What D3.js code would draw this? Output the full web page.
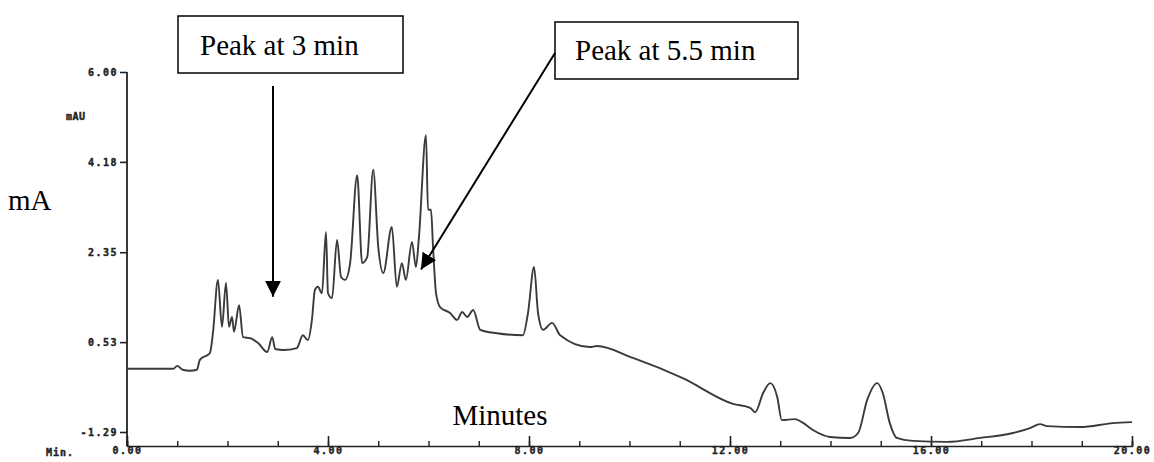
<!DOCTYPE html>
<html>
<head>
<meta charset="utf-8">
<script src="https://cdn.jsdelivr.net/npm/d3@7"></script>
<style>
  body { margin: 0; background: #fff; }
  svg { display: block; }
  .tick-text { font-family: "DejaVu Sans Mono", monospace; font-weight: bold; font-size: 10px; letter-spacing: 1.5px; fill: #222; stroke: #222; stroke-width: 0.4px; }
  .note { font-family: "Liberation Serif", "DejaVu Serif", serif; font-size: 29px; fill: #000; }
</style>
</head>
<body>
<svg id="chart"></svg>
<script>
// retention time (min) and detector signal (mAU)
const times = [0.00, 0.92, 1.00, 1.11, 1.25, 1.39, 1.45, 1.65, 1.71, 1.81, 1.89, 1.97, 2.03, 2.09, 2.13,
  2.23, 2.31, 2.45, 2.61, 2.79, 2.89, 2.95, 3.11, 3.38, 3.50, 3.60, 3.68, 3.74, 3.80, 3.88, 3.96,
  4.00, 4.08, 4.18, 4.26, 4.34, 4.44, 4.58, 4.68, 4.78, 4.90, 5.00, 5.10, 5.27, 5.37, 5.47, 5.55,
  5.67, 5.75, 5.81, 5.95, 5.99, 6.05, 6.09, 6.15, 6.23, 6.43, 6.57, 6.67, 6.77, 6.89, 7.03, 7.36,
  7.88, 7.98, 8.10, 8.18, 8.28, 8.46, 8.62, 9.21, 9.35, 10.07, 11.06, 12.06, 12.40, 12.50, 12.66,
  12.80, 12.94, 13.03, 13.29, 13.43, 13.65, 13.99, 14.39, 14.55, 14.73, 14.93, 15.04, 15.18, 15.32,
  15.64, 16.32, 16.98, 17.63, 17.97, 18.17, 18.31, 18.97, 19.62, 20.00];
const signal = [-0.01, -0.01, 0.05, -0.03, -0.05, -0.03, 0.17, 0.31, 0.71, 1.79, 0.84, 1.73, 0.84, 1.04, 0.74,
  1.28, 0.63, 0.61, 0.51, 0.33, 0.63, 0.39, 0.37, 0.41, 0.67, 0.57, 0.98, 1.59, 1.65, 1.52, 2.76,
  1.52, 1.42, 2.60, 1.85, 1.79, 2.13, 3.91, 2.13, 2.25, 4.02, 2.46, 1.93, 2.86, 1.65, 2.13, 1.79,
  2.56, 2.05, 2.66, 4.72, 3.21, 3.21, 2.46, 1.52, 1.24, 1.12, 0.98, 1.14, 1.04, 1.18, 0.78, 0.71,
  0.67, 1.12, 2.05, 1.12, 0.78, 0.92, 0.67, 0.43, 0.45, 0.21, -0.20, -0.72, -0.80, -0.89, -0.50,
  -0.30, -0.58, -1.05, -1.03, -1.09, -1.25, -1.39, -1.41, -1.31, -0.64, -0.30, -0.50, -1.11, -1.41,
  -1.47, -1.49, -1.41, -1.31, -1.21, -1.13, -1.17, -1.19, -1.11, -1.09];

const yTicks = [6.00, 4.18, 2.35, 0.53, -1.29];
const xMajorTicks = [0, 4, 8, 12, 16, 20];
const xMinorTicks = d3.range(0, 21, 1);

// callouts: label text and the point on the trace the arrow points at
const noteLabels = ["Peak at 3 min", "Peak at 5.5 min"];
const noteTargets = [[2.9, 1.45], [5.85, 2.0]];

const width = 1154, height = 462;
const svg = d3.select("#chart").attr("width", width).attr("height", height);

const x = d3.scaleLinear().domain([0, 20]).range([127, 1132]);
const y = d3.scaleLinear().domain([-1.29, 6]).range([432, 72]);
const axisY = 446;

// arrow head
svg.append("defs").append("marker")
  .attr("id", "arrow")
  .attr("viewBox", "0 0 10 10")
  .attr("refX", 10).attr("refY", 5)
  .attr("markerUnits", "userSpaceOnUse")
  .attr("markerWidth", 16).attr("markerHeight", 16)
  .attr("orient", "auto")
  .append("path").attr("d", "M0,0 L10,5 L0,10 z").attr("fill", "#000");

// y axis
const gy = svg.append("g").attr("transform", "translate(" + x(0) + ",0)")
  .call(d3.axisLeft(y).tickValues(yTicks).tickSize(7).tickPadding(2)
    .tickFormat(d => d.toFixed(2)));
gy.select(".domain").remove();
gy.selectAll(".tick line").attr("stroke", "#222").attr("stroke-width", 1.6);
gy.selectAll("text").attr("class", "tick-text");
gy.append("line").attr("x1", 0).attr("x2", 0).attr("y1", y(6)).attr("y2", axisY)
  .attr("stroke", "#222").attr("stroke-width", 1.8);

svg.append("text").attr("class", "tick-text").attr("x", 66).attr("y", 120)
  .style("font-size", "10px").style("letter-spacing", "0.5px").text("mAU");

// x axis: minor ticks every minute, labelled majors every 4
const gxMinor = svg.append("g").attr("transform", "translate(0," + axisY + ")")
  .call(d3.axisBottom(x).tickValues(xMinorTicks).tickSize(-5).tickFormat(""));
gxMinor.select(".domain").attr("stroke", "#222").attr("stroke-width", 1.6);
gxMinor.selectAll(".tick line").attr("stroke", "#222").attr("stroke-width", 1.4);

const gx = svg.append("g").attr("transform", "translate(0," + axisY + ")")
  .call(d3.axisBottom(x).tickValues(xMajorTicks).tickSizeInner(-10).tickSizeOuter(0)
    .tickPadding(1).tickFormat(d => d.toFixed(2)));
gx.select(".domain").remove();
gx.selectAll(".tick line").attr("stroke", "#222").attr("stroke-width", 1.6);
gx.selectAll("text").attr("class", "tick-text");

svg.append("text").attr("class", "tick-text").attr("x", 46).attr("y", 456)
  .style("font-size", "10px").style("letter-spacing", "1px").text("Min.");

// chromatogram trace
const pts = times.map((t, i) => [t, signal[i]]);
svg.append("path").datum(pts)
  .attr("fill", "none")
  .attr("stroke", "#3a3a3a")
  .attr("stroke-width", 1.9)
  .attr("stroke-linejoin", "round")
  .attr("d", d3.line().x(d => x(d[0])).y(d => y(d[1])).curve(d3.curveMonotoneX));

// axis titles
svg.append("text").attr("class", "note").attr("x", 8).attr("y", 210).text("mA");
svg.append("text").attr("class", "note").attr("x", 500).attr("y", 425)
  .attr("text-anchor", "middle").text("Minutes");

// callout boxes
const boxes = [
  { x: 178, y: 16, w: 225, h: 57, tx: 200, ty: 55, from: [273, 86] },
  { x: 555, y: 22, w: 243, h: 57, tx: 575, ty: 60, from: [555, 53] }
];
boxes.forEach((b, i) => {
  svg.append("rect").attr("x", b.x).attr("y", b.y).attr("width", b.w).attr("height", b.h)
    .attr("fill", "#fff").attr("stroke", "#000").attr("stroke-width", 1.5);
  svg.append("text").attr("class", "note").attr("x", b.tx).attr("y", b.ty).text(noteLabels[i]);
  const tx = i === 0 ? b.from[0] : x(noteTargets[i][0]);
  svg.append("line")
    .attr("x1", b.from[0]).attr("y1", b.from[1])
    .attr("x2", tx).attr("y2", y(noteTargets[i][1]))
    .attr("stroke", "#000").attr("stroke-width", 2)
    .attr("marker-end", "url(#arrow)");
});
</script>
</body>
</html>
